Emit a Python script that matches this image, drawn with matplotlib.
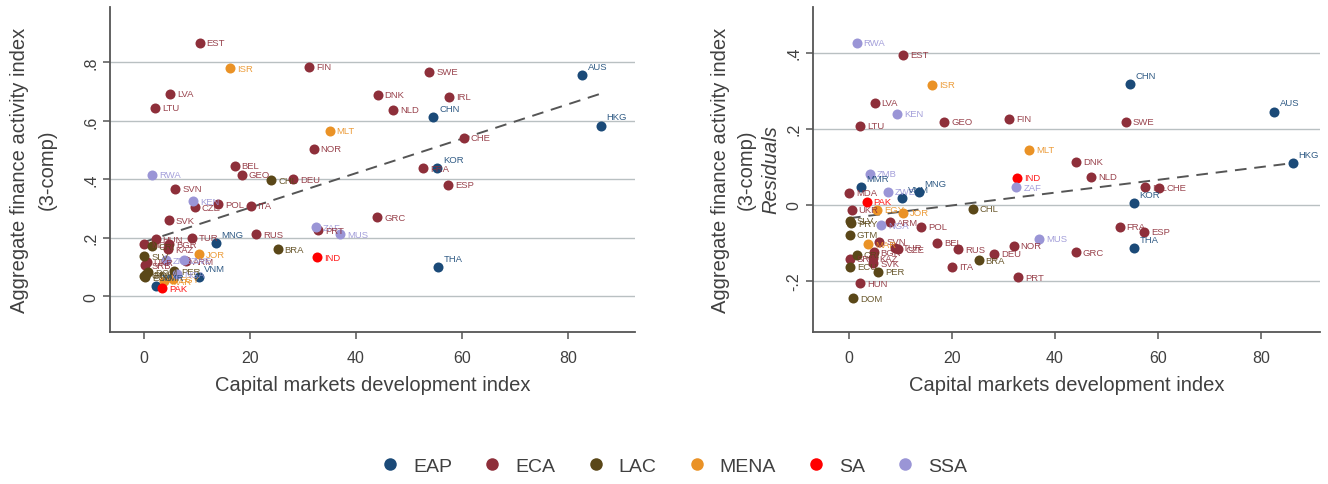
import matplotlib
matplotlib.use("Agg")
import matplotlib.pyplot as plt
from matplotlib.lines import Line2D
import numpy as np

# ---------------- data ----------------
countries = ["EST","ISR","FIN","SWE","AUS","LVA","LTU","DNK","IRL","NLD",
             "CHN","HKG","MLT","CHE","NOR","KOR","FRA","ESP","GRC","ZAF",
             "PRT","MUS","IND","THA","BEL","GEO","CHL","DEU","RWA","SVN",
             "KEN","CZE","POL","ITA","SVK","HUN","TUR","MNG","RUS","BRA",
             "JOR","ARM","ZMB","ZWE","BGR","KAZ","MDA","CRI","SLV","UKR",
             "SRB","DOM","GTM","ECU","PRY","PER","EGY","NGA","VNM","MAR",
             "MMR","PAK"]
regions = ["ECA","MENA","ECA","ECA","EAP","ECA","ECA","ECA","ECA","ECA",
           "EAP","EAP","MENA","ECA","ECA","EAP","ECA","ECA","ECA","SSA",
           "ECA","SSA","SA","EAP","ECA","ECA","LAC","ECA","SSA","ECA",
           "SSA","ECA","ECA","ECA","ECA","ECA","ECA","EAP","ECA","LAC",
           "MENA","ECA","SSA","SSA","ECA","ECA","ECA","LAC","LAC","ECA",
           "ECA","LAC","LAC","LAC","LAC","LAC","MENA","SSA","EAP","MENA",
           "EAP","SA"]
cmdi = [10.5,16.2,31.1,53.8,82.6,5.0,2.1,44.1,57.5,47.0,
        54.6,86.2,35.0,60.3,32.0,55.3,52.6,57.4,44.0,32.5,
        32.9,37.0,32.6,55.4,17.1,18.5,24.0,28.2,1.5,5.9,
        9.3,9.6,14.0,20.1,4.7,2.2,9.0,13.5,21.2,25.2,
        10.4,8.0,4.1,7.6,4.8,4.6,0.0,1.5,0.1,0.5,
        0.2,0.8,0.1,0.2,0.4,5.7,5.4,6.2,10.3,3.7,
        2.3,3.4]
afai = [0.867,0.780,0.785,0.768,0.758,0.693,0.645,0.690,0.683,0.638,
        0.614,0.584,0.567,0.543,0.505,0.437,0.437,0.382,0.270,0.235,
        0.225,0.212,0.133,0.099,0.447,0.416,0.396,0.400,0.416,0.368,
        0.324,0.304,0.314,0.310,0.260,0.195,0.200,0.181,0.212,0.160,
        0.143,0.119,0.123,0.123,0.177,0.160,0.177,0.171,0.136,0.116,
        0.106,0.082,0.070,0.065,0.075,0.085,0.058,0.075,0.065,0.050,
        0.034,0.027]
resid = [0.395,0.316,0.226,0.218,0.245,0.268,0.208,0.113,0.047,0.074,
         0.318,0.110,0.145,0.045,-0.108,0.005,-0.058,-0.071,-0.124,0.047,
         -0.190,-0.089,0.071,-0.113,-0.100,0.218,-0.010,-0.129,0.426,-0.097,
         0.240,-0.116,-0.058,-0.163,-0.153,-0.206,-0.113,0.034,-0.116,-0.145,
         -0.021,-0.045,0.082,0.034,-0.124,-0.140,0.032,-0.131,-0.042,-0.013,
         -0.142,-0.245,-0.079,-0.163,-0.048,-0.176,-0.013,-0.053,0.018,-0.103,
         0.047,0.008]

# fitted lines (intercept, slope) and x-range
fit_left = (0.185, 0.0059)
fit_right = (-0.035, 0.00168)
fit_xrange = (0.0, 86.4)

region_order = ["EAP","ECA","LAC","MENA","SA","SSA"]
region_colors = {"EAP":"#1b4a78","ECA":"#8e2f3a","LAC":"#5a4718",
                 "MENA":"#ea9226","SA":"#ff0000","SSA":"#9a95d6"}

left_yticks = [0, 0.2, 0.4, 0.6, 0.8]
left_yticklabels = ["0", ".2", ".4", ".6", ".8"]
right_yticks = [-0.2, 0, 0.2, 0.4]
right_yticklabels = ["-.2", "0", ".2", ".4"]
xticks = [0, 20, 40, 60, 80]

# ---------------- style ----------------
FONT = ["Liberation Sans", "DejaVu Sans"]
plt.rcParams["font.family"] = FONT
TXT = "#404040"

W, H = 1328, 485
fig = plt.figure(figsize=(W/100, H/100), dpi=100)

def px_axes(l, r, t, b):
    return fig.add_axes([l/W, 1-b/H, (r-l)/W, (b-t)/H])

axL = px_axes(110, 635, 8, 333)
axR = px_axes(813, 1320, 8, 333)

def style(ax, yticks, ylabels, xlim, ylim):
    ax.set_xlim(*xlim)
    ax.set_ylim(*ylim)
    for s in ["top", "right"]:
        ax.spines[s].set_visible(False)
    for s in ["left", "bottom"]:
        ax.spines[s].set_color("#555555")
        ax.spines[s].set_linewidth(1.3)
    ax.set_yticks(yticks)
    ax.set_yticklabels(ylabels, rotation=90, va="center")
    ax.set_xticks(xticks)
    ax.tick_params(axis="both", colors="#555555", labelcolor=TXT,
                   labelsize=11.5, length=5, width=1.1)
    ax.tick_params(axis="x", pad=8)
    ax.grid(axis="y", color="#b9c0c2", lw=1.0)
    ax.set_axisbelow(True)
    ax.set_xlabel("Capital markets development index", fontsize=14.5,
                  color=TXT, labelpad=7.5)

def draw(ax, yvals, fit):
    for reg in region_order:
        idx = [i for i, r in enumerate(regions) if r == reg]
        ax.scatter([cmdi[i] for i in idx], [yvals[i] for i in idx],
                   s=52, color=region_colors[reg], zorder=3, linewidths=0)
    for i, c in enumerate(countries):
        col = region_colors[regions[i]]
        if regions[i] == "EAP":
            off, va = (4, 3), "bottom"
        else:
            off, va = (5, 0), "center"
        ax.annotate(c, (cmdi[i], yvals[i]), xytext=off,
                    textcoords="offset points", fontsize=6.8, color=col,
                    va=va, ha="left", zorder=4, alpha=0.9)
    xs = np.array(fit_xrange)
    ax.plot(xs, fit[0] + fit[1]*xs, ls=(0, (6, 4)), color="#555555",
            lw=1.4, zorder=2)

style(axL, left_yticks, left_yticklabels, (-6.4, 92.6), (-0.123, 0.99))
style(axR, right_yticks, right_yticklabels, (-7.0, 91.5), (-0.334, 0.52))
draw(axL, afai, fit_left)
draw(axR, resid, fit_right)

# y-axis titles
def vtext(xpx, s, italic=False):
    fig.text(xpx/W, 1-170/H, s, rotation=90, ha="center", va="center",
             fontsize=14.5, color=TXT, style="italic" if italic else "normal")

vtext(20, "Aggregate finance activity index")
vtext(47, "(3-comp)")
vtext(721, "Aggregate finance activity index")
vtext(746, "(3-comp)")
vtext(771, "Residuals", italic=True)

# legend
handles = [Line2D([], [], marker="o", ls="", color=region_colors[r],
                  markersize=9, markeredgewidth=0) for r in region_order]
fig.legend(handles, region_order, loc="center", ncol=6,
           bbox_to_anchor=(674/W, 1-467/H), frameon=False, fontsize=14,
           labelcolor=TXT, handletextpad=0.69, columnspacing=1.56,
           handlelength=1.0, borderpad=0.2)

fig.savefig("out.png", dpi=100)
